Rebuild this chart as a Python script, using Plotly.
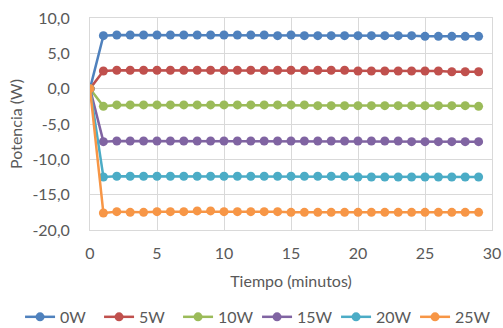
import plotly.graph_objects as go

minutes = list(range(30))
series_names = ["0W", "5W", "10W", "15W", "20W", "25W"]
p0 = [0, 7.5, 7.6, 7.6, 7.6, 7.6, 7.6, 7.6, 7.6, 7.6, 7.6, 7.6, 7.6, 7.6, 7.5, 7.6, 7.5, 7.5, 7.5, 7.5,
      7.5, 7.5, 7.5, 7.5, 7.5, 7.4, 7.4, 7.4, 7.4, 7.4]
p5 = [0, 2.5, 2.6, 2.6, 2.6, 2.6, 2.6, 2.6, 2.6, 2.6, 2.6, 2.6, 2.6, 2.6, 2.6, 2.6, 2.6, 2.6, 2.6, 2.6,
      2.5, 2.5, 2.5, 2.5, 2.5, 2.5, 2.5, 2.4, 2.4, 2.4]
p10 = [0, -2.5, -2.3, -2.3, -2.3, -2.3, -2.3, -2.3, -2.3, -2.3, -2.3, -2.3, -2.3, -2.3, -2.3, -2.3, -2.3, -2.4, -2.4, -2.4,
       -2.4, -2.4, -2.4, -2.4, -2.4, -2.4, -2.4, -2.4, -2.4, -2.5]
p15 = [0, -7.5, -7.4, -7.4, -7.4, -7.4, -7.4, -7.4, -7.4, -7.4, -7.4, -7.4, -7.4, -7.4, -7.4, -7.4, -7.4, -7.4, -7.4, -7.4,
       -7.4, -7.4, -7.4, -7.4, -7.5, -7.5, -7.5, -7.5, -7.5, -7.5]
p20 = [0, -12.5, -12.4, -12.4, -12.4, -12.4, -12.4, -12.4, -12.4, -12.4, -12.4, -12.4, -12.4, -12.4, -12.4, -12.4, -12.4, -12.4, -12.4, -12.4,
       -12.5, -12.5, -12.5, -12.5, -12.5, -12.5, -12.5, -12.5, -12.5, -12.5]
p25 = [0, -17.6, -17.4, -17.5, -17.5, -17.4, -17.4, -17.4, -17.3, -17.3, -17.4, -17.4, -17.4, -17.4, -17.4, -17.5, -17.5, -17.5, -17.5, -17.5,
       -17.5, -17.5, -17.5, -17.5, -17.5, -17.5, -17.5, -17.5, -17.5, -17.5]
series_values = [p0, p5, p10, p15, p20, p25]
colors = ["#4F81BD", "#C0504D", "#9BBB59", "#8064A2", "#4BACC6", "#F79646"]

y_tickvals = [-20, -15, -10, -5, 0, 5, 10]
y_ticktext = ["-20,0", "-15,0", "-10,0", "-5,0", "0,0", "5,0", "10,0"]
x_tickvals = [0, 5, 10, 15, 20, 25, 30]

FONT = "Lato, Open Sans, sans-serif"
TXT = "#595959"
GRID = "#D9D9D9"

fig = go.Figure()
for name, vals, c in zip(series_names, series_values, colors):
    fig.add_trace(go.Scatter(
        x=minutes, y=vals, name=name, mode="lines+markers",
        line=dict(color=c, width=2.5),
        marker=dict(color=c, size=9, symbol="circle"),
    ))

fig.update_layout(
    width=503, height=328,
    margin=dict(l=90, r=11, t=18, b=98, autoexpand=False),
    paper_bgcolor="white", plot_bgcolor="white",
    font=dict(family=FONT, color=TXT, size=16),
    showlegend=True,
    legend=dict(orientation="h", x=-0.174, xanchor="left", xref="paper",
                y=-0.41, yanchor="middle", yref="paper", font=dict(size=16, color=TXT),
                itemwidth=30, entrywidth=34, entrywidthmode="pixels", tracegroupgap=0),
    xaxis=dict(range=[0, 30], tickvals=x_tickvals, showgrid=True, gridcolor=GRID, gridwidth=1,
               zeroline=False, showline=True, linecolor=GRID, mirror=True,
               ticks="", tickfont=dict(size=16, color=TXT), ticklabelstandoff=9,
               title=dict(text="Tiempo (minutos)", font=dict(size=16, color=TXT), standoff=14)),
    yaxis=dict(range=[-20, 10], tickvals=y_tickvals, ticktext=y_ticktext, showgrid=True, gridcolor=GRID,
               zeroline=False, showline=True, linecolor=GRID, mirror=True,
               ticks="", tickfont=dict(size=16, color=TXT), ticklabelstandoff=16,
               title=dict(text="Potencia (W)", font=dict(size=16, color=TXT), standoff=5)),
)

# remove the browser's default 8px page margin so the figure fills the window exactly
fig.write_html("out.html", config={"displayModeBar": False},
               post_script="document.body.style.margin='0px';document.body.style.overflow='hidden';")
